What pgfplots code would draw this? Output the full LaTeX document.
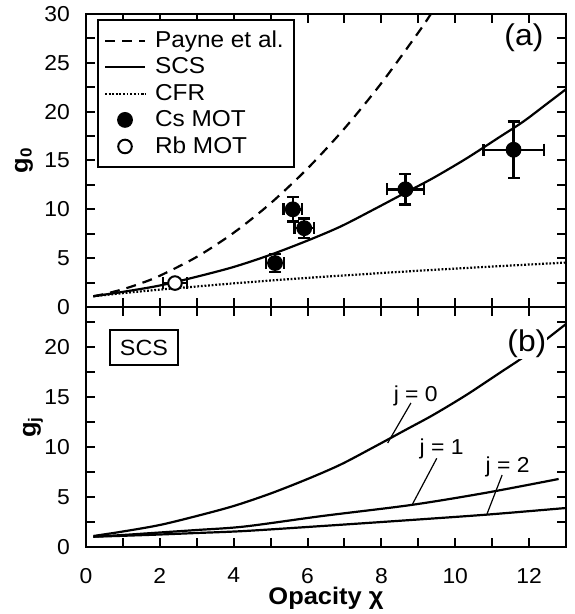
\documentclass[border=0pt]{standalone}
\usepackage{fontspec}
\setmainfont{Liberation Sans}[FakeStretch=1.06]
\usepackage{pgfplots}
\pgfplotsset{compat=1.18}
\begin{document}
\begin{tikzpicture}
\pgfplotsset{
 myax/.style={
  scale only axis, width=240pt, xmin=0, xmax=13,
  axis line style={line width=1.4pt},
  xtick={0,2,...,12}, minor xtick={1,3,...,11},
  tick style={line width=1pt, black},
  major tick length=4.5pt, minor tick length=4.5pt,
  /pgf/number format/assume math mode=true,
  ticklabel style={font=\fontsize{10.8}{12}\selectfont},
  yticklabel style={xshift=-4.5pt},
  xticklabel style={yshift=-7pt},
  every axis plot/.append style={line width=1.1pt},
 }
}
\begin{axis}[myax, name=bot, height=120pt, ymin=0, ymax=24,
  ytick={0,5,...,20}, minor ytick={2.5,7.5,...,22.5},
  xlabel={\bfseries Opacity χ},
  xlabel style={at={(axis description cs:0.5,0)}, anchor=base, yshift=-28.5pt, font=\fontsize{12}{14}\selectfont},
  ylabel={\bfseries g\textsubscript{j}},
  ylabel style={at={([xshift=-25pt]axis description cs:0,0.5)}, anchor=base, rotate=0, font=\fontsize{12}{14}\selectfont},
]
\addplot[black, smooth] coordinates {(0.2,1.1) (1,1.55) (2,2.2) (3,3.1) (4,4.1) (5,5.35) (6,6.8) (6.9,8.25) (7.8,10.0) (8.7,11.8) (9.4,13.2) (10.3,15.2) (11.2,17.4) (11.85,19.0) (12.48,20.8) (13,22.3)};
\addplot[black, smooth] coordinates {(0.2,1.03) (1,1.2) (2,1.45) (3,1.7) (4.3,2.05) (6.4,3.1) (8.8,4.2) (10.8,5.4) (12.8,6.8)};
\addplot[black, smooth] coordinates {(0.2,1.03) (1,1.12) (2,1.25) (3,1.4) (4.3,1.6) (6.4,2.1) (8.8,2.7) (10.9,3.25) (13,3.9)};
\draw[line width=0.6pt] (axis cs:8.8,14.4) -- (axis cs:8.17,10.4);
\draw[line width=0.6pt] (axis cs:9.5,8.87) -- (axis cs:8.83,4.2);
\draw[line width=0.6pt] (axis cs:11.27,7.2) -- (axis cs:10.86,3.3);
\node[anchor=base, inner sep=0pt, font=\fontsize{10.8}{12}\selectfont] at (axis cs:8.93,14.5) {j = 0};
\node[anchor=base, inner sep=0pt, font=\fontsize{10.8}{12}\selectfont] at (axis cs:9.63,9.2) {j = 1};
\node[anchor=base, inner sep=0pt, font=\fontsize{10.8}{12}\selectfont] at (axis cs:11.42,7.43) {j = 2};
\node[fill=white, inner sep=0.5pt, font=\fontsize{15}{17}\selectfont] at (axis cs:11.94,20.3) {(b)};
\node[draw, line width=1pt, minimum width=34pt, minimum height=17.5pt, inner sep=0pt, font=\fontsize{11}{13}\selectfont] at (axis cs:1.57,19.9) {SCS};
\end{axis}
\begin{axis}[myax, name=top, at={(bot.north west)}, anchor=south west, height=146.5pt,
  ymin=0, ymax=30, ytick={0,5,...,30}, minor ytick={2.5,7.5,...,27.5},
  xticklabels={},
  ylabel={\bfseries g\textsubscript{0}},
  ylabel style={at={([xshift=-29pt]axis description cs:0,0.5)}, anchor=base, rotate=0, font=\fontsize{12}{14}\selectfont},
  legend style={at={(axis description cs:0,1)}, anchor=north west, xshift=5.5pt, yshift=-2.5pt,
    draw=black, line width=1pt, font=\fontsize{11.5}{13}\selectfont,
    inner xsep=3pt, inner ysep=3.5pt, row sep=-0.4pt, cells={anchor=west},
    /tikz/every odd column/.append style={column sep=2.5pt}},
  legend image code/.code={\draw[mark repeat=2,mark phase=2,#1] plot coordinates {(0cm,0cm) (0.35cm,0cm) (0.7cm,0cm)};},
]
\addplot[black, smooth, dash pattern=on 5pt off 3.5pt] coordinates {(0.2,1.1) (0.5,1.33) (1,1.82) (1.5,2.44) (2,3.2) (3,5.13) (4,7.6) (5,10.62) (6,14.18) (7,18.28) (8,22.92) (9,28.1) (9.34,30.0)};
\addlegendentry{Payne et al.}
\addplot[black, smooth] coordinates {(0.2,1.1) (1,1.55) (2,2.2) (3,3.1) (4,4.1) (5,5.35) (6,6.8) (6.9,8.25) (7.8,10.0) (8.7,11.8) (9.4,13.2) (10.3,15.2) (11.2,17.4) (11.85,19.0) (12.48,20.8) (13,22.3)};
\addlegendentry{SCS}
\addplot[black, smooth, line width=1.1pt, dash pattern=on 0.9pt off 0.9pt] coordinates {(0.2,1.1) (1,1.42) (2,1.78) (3,2.1) (4.2,2.48) (6,2.98) (8.6,3.62) (10.8,4.1) (13,4.55)};
\addlegendentry{CFR}
\addplot[black, only marks, mark=*, mark size=3.4pt, mark options={fill=black},
  error bars/.cd, x dir=both, x explicit, y dir=both, y explicit,
  error bar style={line width=1.2pt}, error mark options={rotate=90, line width=1.2pt, mark size=3pt}]
  table[x=x, y=y, x error=ex, y error=ey] {
x y ex ey
5.12 4.5 0.25 0.9
5.6 10.0 0.25 1.25
5.91 8.07 0.26 1.0
8.65 12.05 0.5 1.55
11.58 16.1 0.82 2.9
};
\addlegendentry{Cs MOT}
\addplot[black, only marks, mark=*, mark size=3.4pt, mark options={fill=white, line width=1pt},
  error bars/.cd, x dir=both, x explicit,
  error bar style={line width=1.2pt}, error mark options={rotate=90, line width=1.2pt, mark size=3pt}]
  table[x=x, y=y, x error=ex] {
x y ex
2.41 2.45 0.32
};
\addlegendentry{Rb MOT}
\node[inner sep=0pt, font=\fontsize{15}{17}\selectfont] at (axis cs:11.86,27.6) {(a)};
\end{axis}
\pgfresetboundingbox
\path[use as bounding box] ([shift={(-43pt,-33.5pt)}]bot.south west) rectangle ([shift={(4pt,7pt)}]top.north east);
\end{tikzpicture}
\end{document}
